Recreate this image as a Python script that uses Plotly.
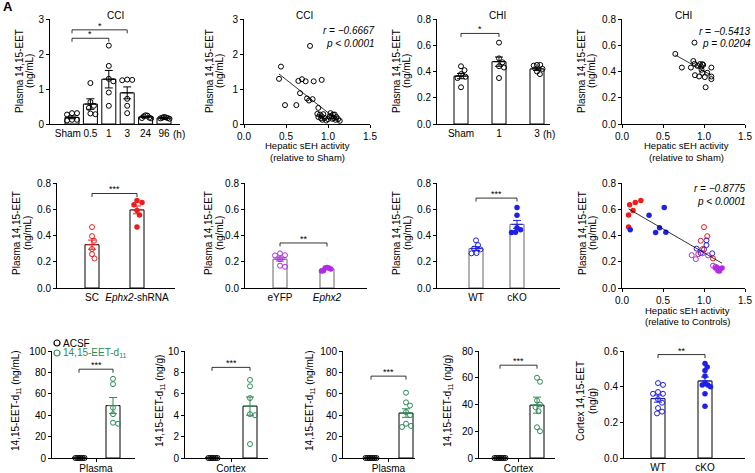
import numpy as np
import plotly.graph_objects as go

W, H = 755, 473
FONT = "Liberation Sans, Arial, sans-serif"
BLACK = "#000000"
RED = "#EE1C1C"
BLUE = "#1F1FE6"
PURPLE = "#B02CE6"
GREEN = "#2E8B57"

# ======================= DATA =======================
# --- CCI time course (plasma 14,15-EET, ng/mL) ---
cci_labels = ["Sham\u00a0\u00a0\u00a0", "0.5", "1", "3", "24", "96"]
cci_mean = [0.19, 0.57, 1.28, 0.89, 0.20, 0.17]
cci_sem = [0.04, 0.15, 0.25, 0.17, 0.02, 0.01]
cci_points = [
    [0.31, 0.31, 0.27, 0.12, 0.12, 0.10],
    [1.17, 0.63, 0.52, 0.46, 0.30, 0.28],
    [2.24, 1.66, 1.29, 1.22, 0.90, 0.52],
    [1.26, 1.27, 1.25, 0.72, 0.52, 0.31],
    [0.25, 0.24, 0.22, 0.18, 0.17, 0.16],
    [0.20, 0.19, 0.18, 0.17, 0.16, 0.15],
]
# --- CCI correlation ---
cci_seh = [0.786, 0.44, 0.417, 0.69, 0.647, 0.734, 0.83, 0.925, 0.667, 0.75, 0.774, 0.817,
           0.488, 0.623, 0.885, 0.873, 0.905, 0.925, 0.885, 0.933, 0.96, 1.0, 1.04, 1.06,
           1.08, 1.1, 1.12, 1.14, 1.05, 1.02, 1.07, 0.944, 0.98, 1.09, 0.917, 1.03]
cci_eet = [2.23, 1.64, 1.29, 1.28, 1.23, 1.22, 1.22, 1.26, 0.88, 0.73, 0.67, 0.71,
           0.54, 0.54, 0.46, 0.29, 0.27, 0.22, 0.20, 0.12, 0.17, 0.14, 0.22, 0.27,
           0.27, 0.20, 0.14, 0.09, 0.15, 0.22, 0.17, 0.28, 0.10, 0.12, 0.16, 0.31]
cci_stats = ["r = −0.6667", "p < 0.0001"]

# --- CHI time course ---
chi_labels = ["Sham", "1", "3"]
chi_mean = [0.365, 0.475, 0.42]
chi_sem = [0.02, 0.035, 0.013]
chi_points = [
    [0.44, 0.41, 0.38, 0.36, 0.35, 0.28],
    [0.62, 0.50, 0.47, 0.44, 0.43, 0.35],
    [0.45, 0.45, 0.445, 0.42, 0.40, 0.38],
]
# --- CHI correlation ---
chi_seh = [0.65, 0.884, 0.73, 0.87, 0.884, 0.84, 0.92, 0.95, 0.98, 0.965, 0.97, 0.99,
           0.89, 0.94, 0.98, 1.01, 1.09, 1.09, 1.09, 1.02, 1.04]
chi_eet = [0.534, 0.62, 0.43, 0.48, 0.458, 0.43, 0.443, 0.456, 0.456, 0.438, 0.413, 0.45,
           0.372, 0.362, 0.39, 0.357, 0.43, 0.362, 0.342, 0.28, 0.39]
chi_stats = ["r = −0.5413", "p = 0.0204"]

# --- knock-down / knock-out groups (EET and hepatic sEH activity) ---
sc_eet = [0.464, 0.36, 0.395, 0.297, 0.258, 0.225]
sc_seh = [1.0, 0.96, 1.04, 0.98, 0.93, 1.11]
shrna_eet = [0.635, 0.557, 0.59, 0.652, 0.667, 0.464]
shrna_seh = [0.093, 0.08, 0.134, 0.162, 0.23, 0.08]
sc_mean, sc_sem_v = 0.33, 0.035
shrna_mean, shrna_sem_v = 0.595, 0.03

eyfp_eet = [0.25, 0.22, 0.264, 0.248, 0.17, 0.162]
eyfp_seh = [0.85, 0.90, 0.985, 1.05, 1.11, 1.14]
ephx2_eet = [0.157, 0.145, 0.152, 0.132, 0.13, 0.152]
ephx2_seh = [1.16, 1.18, 1.22, 1.17, 1.19, 1.14]
eyfp_mean, eyfp_sem_v = 0.22, 0.015
ephx2_mean, ephx2_sem_v = 0.145, 0.005

wt_eet = [0.30, 0.363, 0.327, 0.266, 0.264, 0.294]
wt_seh = [0.91, 1.03, 1.03, 0.96, 1.10, 1.0]
cko_eet = [0.443, 0.555, 0.613, 0.46, 0.423, 0.425]
cko_seh = [0.10, 0.33, 0.515, 0.458, 0.41, 0.535]
wt_mean, wt_sem_v = 0.30, 0.015
cko_mean, cko_sem_v = 0.485, 0.03
ctrl_stats = ["r = −0.8775", "p < 0.0001"]

# --- 14,15-EET-d11 distribution ---
d11_plasma1 = [[0, 0, 0, 0, 0, 0], [74, 69, 47, 41, 33, 32]]
d11_plasma1_mean, d11_plasma1_sem = [0, 49], [0, 7.5]
d11_cortex1 = [[0, 0, 0, 0, 0, 0], [7.3, 6.7, 5.6, 4.1, 4.0, 1.3]]
d11_cortex1_mean, d11_cortex1_sem = [0, 4.85], [0, 0.85]
d11_plasma2 = [[0, 0, 0, 0, 0, 0, 0], [61, 52, 49, 43, 40, 32, 30, 29]]
d11_plasma2_mean, d11_plasma2_sem = [0, 42], [0, 4.0]
d11_cortex2 = [[0, 0, 0, 0, 0, 0, 0], [60, 57, 43, 40, 38, 35, 23, 20]]
d11_cortex2_mean, d11_cortex2_sem = [0, 39.5], [0, 6.0]

# --- cortex 14,15-EET WT vs cKO ---
cx_wt = [0.42, 0.41, 0.37, 0.36, 0.36, 0.33, 0.31, 0.28, 0.26, 0.25]
cx_cko = [0.53, 0.51, 0.49, 0.46, 0.42, 0.41, 0.41, 0.40, 0.36, 0.29]
cx_mean, cx_sem = [0.333, 0.432], [0.02, 0.022]

# ======================= HELPERS =======================
fig = go.Figure()
layout = {}
annotations = []
shapes = []
BAR_PX = 14


def names(k):
    return ("x" if k == 1 else f"x{k}", "y" if k == 1 else f"y{k}")


def lkeys(k):
    return ("xaxis" if k == 1 else f"xaxis{k}", "yaxis" if k == 1 else f"yaxis{k}")


def base_axis():
    return dict(showline=True, linecolor="black", linewidth=1, showgrid=False, zeroline=False,
                ticks="outside", ticklen=3, tickwidth=1, tickcolor="black", tickangle=0,
                tickfont=dict(family=FONT, size=10, color="black"), fixedrange=True)


def setup_axes(k, xpx, ypx, xr, yr, ytv, yfmt, xtv, xtt, xticks, xfmt=None, xstand=0):
    xa, ya = lkeys(k)
    xn, yn = names(k)
    xax = base_axis()
    xax.update(domain=[xpx[0] / W, xpx[1] / W], range=xr, anchor=yn,
               tickmode="array", tickvals=xtv, ticks=xticks)
    if xstand:
        xax["ticklabelstandoff"] = xstand
    if xtt is not None:
        xax["ticktext"] = xtt
    if xfmt:
        xax["tickformat"] = xfmt
    yax = base_axis()
    yax.update(domain=[1 - ypx[1] / H, 1 - ypx[0] / H], range=yr, anchor=xn,
               tickmode="array", tickvals=ytv, tickformat=yfmt)
    layout[xa] = xax
    layout[ya] = yax


def txt(xp, yp, s, size=10, xanchor="center", yanchor="middle", angle=0, color="black"):
    annotations.append(dict(x=xp / W, y=1 - yp / H, xref="paper", yref="paper", text=s,
                            showarrow=False, xanchor=xanchor, yanchor=yanchor, textangle=angle,
                            font=dict(family=FONT, size=size, color=color)))


def swarm(vals, ppu_y, dmin=5.0, step=0.5, limit=5.5):
    vals = np.asarray(vals, float)
    order = np.argsort(-vals, kind="stable")
    placed = []
    offs = np.zeros(len(vals))
    cands = [0.0]
    for j in range(1, 120):
        cands += [j * step, -j * step]
    for idx in order:
        yp = vals[idx] * ppu_y
        c = 0.0
        for c in cands:
            if all((c - px) ** 2 + (yp - py) ** 2 >= dmin ** 2 for px, py in placed):
                break
        placed.append((c, yp))
        offs[idx] = c
    m = np.max(np.abs(offs)) if len(offs) else 0
    if m > limit:
        offs = offs * limit / m
    return offs


def marker(color, filled):
    if filled:
        return dict(symbol="circle", size=5.5, color=color, line=dict(width=0))
    return dict(symbol="circle-open", size=5, color=color, line=dict(width=1, color=color))


def bar_panel(k, xpx, ypx, pos0, step, yr, ytv, yfmt, labels, means, sems, points,
              colors, filled, outline, ecolors, brackets, mid_label=None):
    n = len(means)
    xr = [-(pos0 - xpx[0]) / step, (xpx[1] - pos0) / step]
    if mid_label is not None:
        setup_axes(k, xpx, ypx, xr, yr, ytv, yfmt, [(n - 1) / 2], [mid_label], "outside",
                   xstand=-2)
    else:
        setup_axes(k, xpx, ypx, xr, yr, ytv, yfmt, list(range(n)), labels, "")
    xn, yn = names(k)
    fig.add_trace(go.Bar(x=list(range(n)), y=means, width=BAR_PX / step,
                         marker=dict(color="white", line=dict(color=outline, width=1)),
                         xaxis=xn, yaxis=yn, showlegend=False, hoverinfo="skip"))
    ppu_y = (ypx[1] - ypx[0]) / (yr[1] - yr[0])
    for g in range(n):
        offs = swarm(points[g], ppu_y) / step
        fig.add_trace(go.Scatter(x=(g + offs).tolist(), y=points[g], mode="markers",
                                 marker=marker(colors[g], filled[g]), cliponaxis=False,
                                 xaxis=xn, yaxis=yn, showlegend=False, hoverinfo="skip"))
    for g in range(n):
        if sems[g] > 0:
            fig.add_trace(go.Scatter(
                x=[g], y=[means[g]], mode="markers",
                marker=dict(symbol="line-ew", size=8, color=ecolors[g],
                            line=dict(width=1, color=ecolors[g])),
                error_y=dict(type="data", array=[sems[g]], width=4, thickness=1, color=ecolors[g]),
                xaxis=xn, yaxis=yn, showlegend=False, hoverinfo="skip", cliponaxis=False))
    drop = 3.5 / ppu_y
    for (i, j, lev, star) in brackets:
        shapes.append(dict(type="path", xref=xn, yref=yn,
                           path=f"M {i},{lev - drop} L {i},{lev} L {j},{lev} L {j},{lev - drop}",
                           line=dict(color="black", width=0.8)))
        annotations.append(dict(x=(i + j) / 2, y=lev, xref=xn, yref=yn, text=star,
                                showarrow=False, yanchor="bottom", yshift=-3,
                                font=dict(family=FONT, size=9, color="black")))


def scatter_panel(k, xpx, ypx, yr, ytv, yfmt, groups, stats, stats_pos):
    setup_axes(k, xpx, ypx, [0, 1.5], yr, ytv, yfmt, [0, 0.5, 1.0, 1.5], None, "outside", ".1f")
    xn, yn = names(k)
    allx, ally = [], []
    for (xs, ys, col, fil) in groups:
        fig.add_trace(go.Scatter(x=xs, y=ys, mode="markers", marker=marker(col, fil),
                                 cliponaxis=False, xaxis=xn, yaxis=yn, showlegend=False,
                                 hoverinfo="skip"))
        allx += list(xs)
        ally += list(ys)
    allx, ally = np.array(allx), np.array(ally)
    a, b = np.polyfit(allx, ally, 1)
    lx = np.array([allx.min(), allx.max()])
    fig.add_trace(go.Scatter(x=lx.tolist(), y=(a * lx + b).tolist(), mode="lines",
                             line=dict(color="black", width=0.8),
                             xaxis=xn, yaxis=yn, showlegend=False, hoverinfo="skip"))
    xr_, y1, y2 = stats_pos
    txt(xr_, y1, f"<i>{stats[0]}</i>", xanchor="right")
    txt(xr_, y2, f"<i>{stats[1]}</i>", xanchor="right")


def ytitle2(x1, x2, yc, l1, l2):
    txt(x1, yc, l1, angle=-90)
    txt(x2, yc, l2, angle=-90)


# ======================= ROW 1 =======================
R1 = (19, 124)
bar_panel(1, (50, 180), R1, 72, 18.4, [0, 3], [0, 1, 2, 3], "d", cci_labels, cci_mean, cci_sem,
          cci_points, [BLACK] * 6, [False] * 6, BLACK, [BLACK] * 6,
          [(0, 2, 2.45, "*"), (0, 3, 2.69, "*")])
txt(179, 134, "(h)")
txt(115, 15, "CCI")
ytitle2(19, 29, 71, "Plasma 14,15-EET", "(ng/mL)")

scatter_panel(2, (244, 370), R1, [0, 3], [0, 1, 2, 3], "d",
              [(cci_seh, cci_eet, BLACK, False)], cci_stats, (377, 31, 43))
txt(304, 15, "CCI")
ytitle2(209, 219, 71, "Plasma 14,15-EET", "(ng/mL)")
txt(307, 146, "Hepatic sEH activity", size=9.5)
txt(307, 157, "(relative to Sham)", size=9.5)

bar_panel(3, (437, 550), R1, 461, 38, [0, 0.8], [0, 0.2, 0.4, 0.6, 0.8], ".1f", chi_labels,
          chi_mean, chi_sem, chi_points, [BLACK] * 3, [False] * 3, BLACK, [BLACK] * 3,
          [(0, 1, 0.69, "*")])
txt(549, 134, "(h)")
txt(498, 15, "CHI")
ytitle2(396, 406, 71, "Plasma 14,15-EET", "(ng/mL)")

scatter_panel(4, (622, 745), R1, [0, 0.8], [0, 0.2, 0.4, 0.6, 0.8], ".1f",
              [(chi_seh, chi_eet, BLACK, False)], chi_stats, (753, 32, 44))
txt(683, 15, "CHI")
ytitle2(581, 591, 71, "Plasma 14,15-EET", "(ng/mL)")
txt(686, 146, "Hepatic sEH activity", size=9.5)
txt(686, 157, "(relative to Sham)", size=9.5)

# ======================= ROW 2 =======================
R2 = (183, 288)
bar_panel(5, (57, 175), R2, 92, 45, [0, 0.8], [0, 0.2, 0.4, 0.6, 0.8], ".1f",
          ["SC", "<i>Ephx2</i>-shRNA"], [sc_mean, shrna_mean], [sc_sem_v, shrna_sem_v],
          [sc_eet, shrna_eet], [RED, RED], [False, True], BLACK, [RED, RED],
          [(0, 1, 0.72, "***")])
ytitle2(16, 27, 233, "Plasma 14,15-EET", "(ng/mL)")

bar_panel(6, (245, 367), R2, 280, 47, [0, 0.8], [0, 0.2, 0.4, 0.6, 0.8], ".1f",
          ["eYFP", "<i>Ephx2</i>"], [eyfp_mean, ephx2_mean], [eyfp_sem_v, ephx2_sem_v],
          [eyfp_eet, ephx2_eet], [PURPLE, PURPLE], [False, True], "#666666", [PURPLE, PURPLE],
          [(0, 1, 0.343, "**")])
ytitle2(208, 219, 233, "Plasma 14,15-EET", "(ng/mL)")

bar_panel(7, (437, 560), R2, 476, 41, [0, 0.8], [0, 0.2, 0.4, 0.6, 0.8], ".1f",
          ["WT", "cKO"], [wt_mean, cko_mean], [wt_sem_v, cko_sem_v],
          [wt_eet, cko_eet], [BLUE, BLUE], [False, True], "#666666", [BLUE, BLUE],
          [(0, 1, 0.685, "***")])
ytitle2(396, 407, 233, "Plasma 14,15-EET", "(ng/mL)")

scatter_panel(8, (622, 745), R2, [0, 0.8], [0, 0.2, 0.4, 0.6, 0.8], ".1f",
              [(shrna_seh, shrna_eet, RED, True), (cko_seh, cko_eet, BLUE, True),
               (sc_seh, sc_eet, RED, False), (wt_seh, wt_eet, BLUE, False),
               (eyfp_seh, eyfp_eet, PURPLE, False), (ephx2_seh, ephx2_eet, PURPLE, True)],
              ctrl_stats, (748, 188, 202))
ytitle2(582, 592, 233, "Plasma 14,15-EET", "(ng/mL)")
txt(687, 310, "Hepatic sEH activity", size=9.5)
txt(688, 321, "(relative to Controls)", size=9.5)

# ======================= ROW 3 =======================
R3 = (351, 458)
d11_title_ml = "14,15-EET-d<sub>11</sub> (ng/mL)"
d11_title_g = "14,15-EET-d<sub>11</sub> (ng/g)"
cols3 = [BLACK, GREEN]
bar_panel(9, (52, 135), R3, 79, 34, [0, 100], [0, 20, 40, 60, 80, 100], "d", None,
          d11_plasma1_mean, d11_plasma1_sem, d11_plasma1, cols3, [False, False], BLACK,
          cols3, [(0, 1, 83, "***")], mid_label="Plasma")
txt(16, 401, d11_title_ml, angle=-90)

bar_panel(10, (185, 268), R3, 212, 38, [0, 10], [0, 2, 4, 6, 8, 10], "d", None,
          d11_cortex1_mean, d11_cortex1_sem, d11_cortex1, cols3, [False, False], BLACK,
          cols3, [(0, 1, 8.47, "***")], mid_label="Cortex")
txt(160, 401, d11_title_g, angle=-90)

bar_panel(11, (343, 415), R3, 371, 35, [0, 100], [0, 20, 40, 60, 80, 100], "d", None,
          d11_plasma2_mean, d11_plasma2_sem, d11_plasma2, cols3, [False, False], BLACK,
          cols3, [(0, 1, 76.5, "***")], mid_label="Plasma")
txt(310, 401, d11_title_ml, angle=-90)

bar_panel(12, (479, 555), R3, 500, 37, [0, 80], [0, 20, 40, 60, 80], "d", None,
          d11_cortex2_mean, d11_cortex2_sem, d11_cortex2, cols3, [False, False], BLACK,
          cols3, [(0, 1, 69.4, "***")], mid_label="Cortex")
txt(448, 401, d11_title_g, angle=-90)

bar_panel(13, (624, 745), R3, 658, 47, [0, 0.6], [0, 0.2, 0.4, 0.6], ".1f", ["WT", "cKO"],
          cx_mean, cx_sem, [cx_wt, cx_cko], [BLUE, BLUE], [False, True], BLACK, [BLUE, BLUE],
          [(0, 1, 0.58, "**")])
ytitle2(580, 592, 401, "Cortex 14,15-EET", "(ng/g)")

# legend for row 3 (pixel overlay axis)
layout["xaxis14"] = dict(domain=[0, 1], range=[0, W], visible=False, fixedrange=True, anchor="y14")
layout["yaxis14"] = dict(domain=[0, 1], range=[H, 0], visible=False, fixedrange=True, anchor="x14")
fig.add_trace(go.Scatter(x=[57, 57], y=[343, 353], mode="markers",
                         marker=dict(symbol="circle-open", size=6, color=[BLACK, GREEN],
                                     line=dict(width=1.2, color=[BLACK, GREEN])),
                         xaxis="x14", yaxis="y14", showlegend=False, hoverinfo="skip"))
txt(61, 343, "ACSF", xanchor="left")
txt(61, 353, "14,15-EET-d<sub>11</sub>", xanchor="left", color=GREEN)

txt(1, 7, "<b>A</b>", size=13, xanchor="left")

fig.update_layout(**layout)
fig.update_layout(width=W, height=H, margin=dict(l=0, r=0, t=0, b=0, autoexpand=False),
                  paper_bgcolor="white", plot_bgcolor="rgba(0,0,0,0)", showlegend=False,
                  font=dict(family=FONT, size=10, color="black"),
                  annotations=annotations, shapes=shapes, barmode="overlay")
fig.write_html("out.html", config={"displayModeBar": False, "staticPlot": True},
               post_script="document.body.style.margin='0px';document.body.style.padding='0px';")
